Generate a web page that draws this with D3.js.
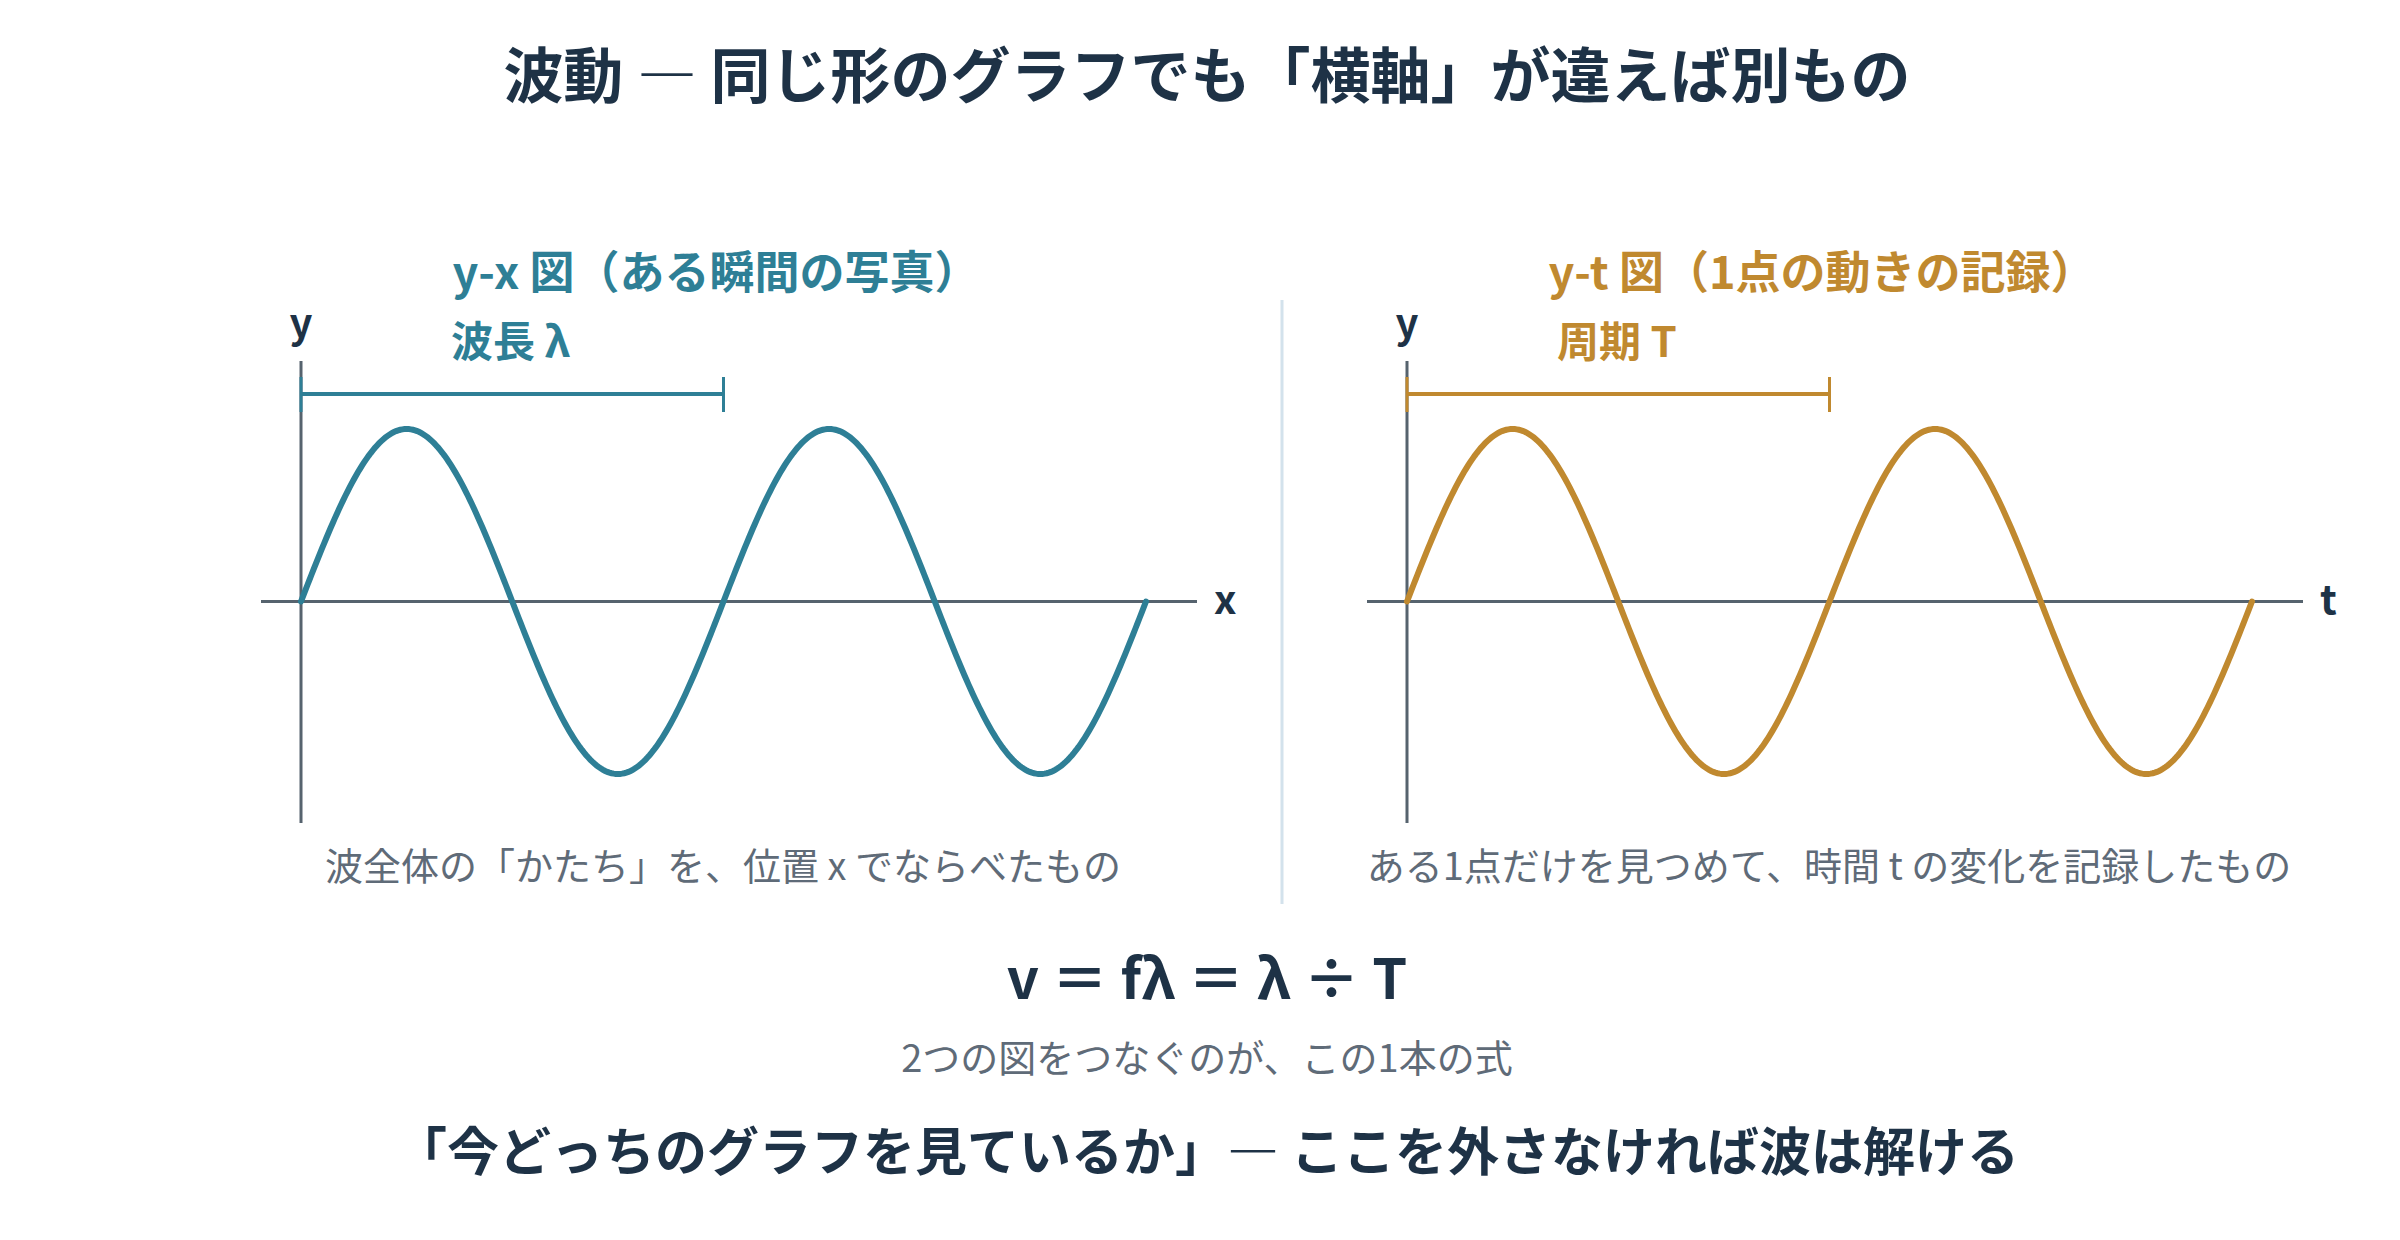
<!DOCTYPE html>
<html><head><meta charset="utf-8">
<script src="https://cdn.jsdelivr.net/npm/d3@7"></script>
<style>body{margin:0;background:#fff}svg{display:block}text{font-family:"Noto Sans CJK JP","Noto Sans",sans-serif}</style>
</head><body><svg id="c" width="2400" height="1240"></svg>
<script>
const titleText = "波動 ― 同じ形のグラフでも「横軸」が違えば別もの";
const panels = [
  {name:"y-x 図（ある瞬間の写真）", axisLabel:"x", spanLabel:"波長 λ", caption:"波全体の「かたち」を、位置 x でならべたもの", color:"#2e7f96"},
  {name:"y-t 図（1点の動きの記録）", axisLabel:"t", spanLabel:"周期 T", caption:"ある1点だけを見つめて、時間 t の変化を記録したもの", color:"#c0892f"}
];
const cycles = 2;        // number of wavelengths / periods shown
const amplitude = 1;
const formulaText = "v ＝ fλ ＝ λ ÷ T";
const subText = "2つの図をつなぐのが、この1本の式";
const bottomText = "「今どっちのグラフを見ているか」― ここを外さなければ波は解ける";

const svg = d3.select("#c");
const dark = "#1e3246", gray = "#5f6b78", axisC = "#56636e";
svg.append("text").attr("x",1207).attr("y",82).attr("text-anchor","middle").attr("dominant-baseline","middle")
  .attr("font-size",60).attr("font-weight",700).attr("fill",dark).text(titleText);

const offsets = [0, 1106];
panels.forEach((p,i)=>{
  const dx = offsets[i];
  const g = svg.append("g").attr("transform",`translate(${dx},0)`);
  const x = d3.scaleLinear().domain([0,cycles]).range([301,1146]);
  const y = d3.scaleLinear().domain([-amplitude,amplitude]).range([774,429]);
  g.append("line").attr("x1",261).attr("x2",1197).attr("y1",y(0)).attr("y2",y(0)).attr("stroke",axisC).attr("stroke-width",3);
  g.append("line").attr("x1",x(0)).attr("x2",x(0)).attr("y1",361).attr("y2",823).attr("stroke",axisC).attr("stroke-width",3);
  g.append("text").attr("x",x(0)).attr("y",326).attr("text-anchor","middle").attr("dominant-baseline","middle")
    .attr("font-size",40).attr("font-weight",700).attr("fill",dark).text("y");
  g.append("text").attr("x",1214).attr("y",y(0)+2).attr("dominant-baseline","middle")
    .attr("font-size",40).attr("font-weight",700).attr("fill",dark).text(p.axisLabel);
  const pts = d3.range(0, cycles+1e-9, cycles/400).map(v=>[v, amplitude*Math.sin(2*Math.PI*v)]);
  g.append("path").attr("d", d3.line().x(d=>x(d[0])).y(d=>y(d[1]))(pts))
    .attr("fill","none").attr("stroke",p.color).attr("stroke-width",6).attr("stroke-linecap","round");
  const by = 394;
  g.append("line").attr("x1",x(0)).attr("x2",x(1)).attr("y1",by).attr("y2",by).attr("stroke",p.color).attr("stroke-width",4);
  [0,1].forEach(v=>g.append("line").attr("x1",x(v)).attr("x2",x(v)).attr("y1",377).attr("y2",412).attr("stroke",p.color).attr("stroke-width",3));
  g.append("text").attr("x",451).attr("y",346).attr("dominant-baseline","middle")
    .attr("font-size",42).attr("font-weight",700).attr("fill",p.color).text(p.spanLabel);
  g.append("text").attr("x",716).attr("y",277).attr("text-anchor","middle").attr("dominant-baseline","middle")
    .attr("font-size",45).attr("font-weight",700).attr("fill",p.color).text(p.name);
  g.append("text").attr("x",723).attr("y",870).attr("text-anchor","middle").attr("dominant-baseline","middle")
    .attr("font-size",38).attr("fill",gray).text(p.caption);
});
svg.append("line").attr("x1",1282).attr("x2",1282).attr("y1",300).attr("y2",904).attr("stroke","#d3e2ec").attr("stroke-width",3);
svg.append("text").attr("x",1207).attr("y",984).attr("text-anchor","middle").attr("dominant-baseline","middle")
  .attr("font-size",56).attr("font-weight",700).attr("fill",dark).text(formulaText);
svg.append("text").attr("x",1207).attr("y",1062).attr("text-anchor","middle").attr("dominant-baseline","middle")
  .attr("font-size",38).attr("fill",gray).text(subText);
svg.append("text").attr("x",1207).attr("y",1157).attr("text-anchor","middle").attr("dominant-baseline","middle")
  .attr("font-size",52).attr("font-weight",700).attr("fill",dark).text(bottomText);
</script></body></html>
